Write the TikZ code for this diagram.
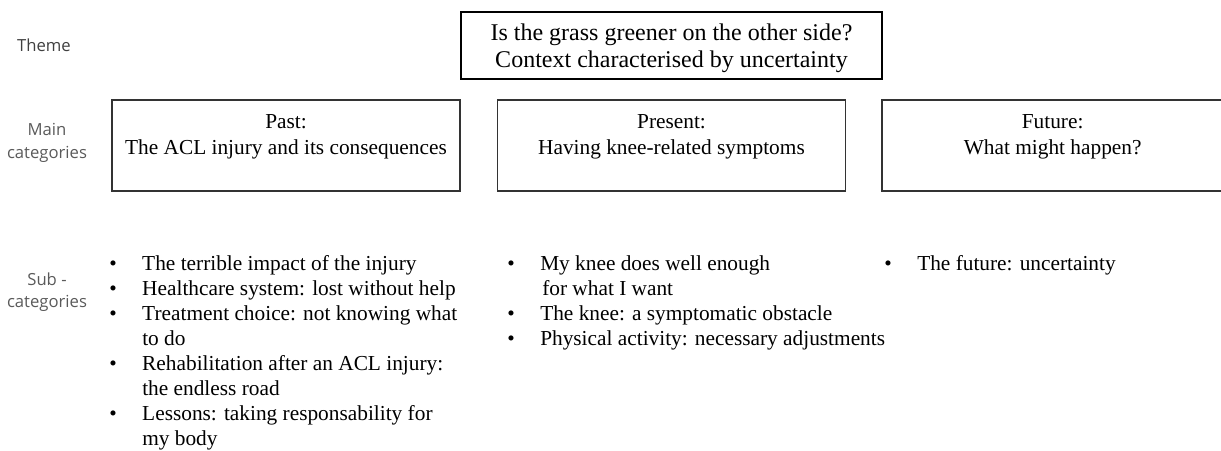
\documentclass[tikz,border=0pt]{standalone}
\usepackage{fontspec}
\setmainfont{Liberation Serif}
\newfontfamily\labelfont{Open Sans}
\usetikzlibrary{positioning}
\definecolor{labDark}{HTML}{404040}
\definecolor{labGray}{HTML}{5A5A5A}
\definecolor{boxGray}{HTML}{333333}

\newcommand{\bul}{\makebox[24.75pt][l]{\textbullet}}
\newcommand{\cont}{\hspace*{24.75pt}}

\begin{document}
\begin{tikzpicture}
[
x=0.75pt, y=-0.75pt,
rowlabel/.style={align=center,inner sep=0pt,font=\labelfont\fontsize{12.5}{17}\selectfont},
themebox/.style={draw=black,line width=1.5pt,minimum width=421*0.75pt,minimum height=67*0.75pt,inner sep=0pt},
themetext/.style={align=center,inner sep=0pt,font=\fontsize{18}{20.8}\selectfont},
catbox/.style={draw=boxGray,line width=1.1pt,minimum width=348*0.75pt,minimum height=91*0.75pt,inner sep=0pt},
cattext/.style={align=center,inner sep=0pt,font=\fontsize{16}{19.5}\selectfont},
sublist/.style={align=left,inner sep=0pt,anchor=north west,font=\fontsize{16}{18.75}\selectfont},
]
\clip (0,0) rectangle (1221,450);

% Row labels
\node[rowlabel,text=labDark] (lthm) at (44,45) {Theme};
\node[rowlabel,text=labGray] (lmain) at (47,143) {Main\\categories};
\node[rowlabel,text=labGray] (lsub) at (47,292) {Sub -\\categories};

% Theme
\node[themebox] (theme) at (671.5,45.5) {};
\node[themetext,yshift=-2pt] (themetxt) at (theme.center) {Is the grass greener on the other side?\\Context characterised by uncertainty};

% Main categories
\node[catbox] (past) at (286,145.5) {};
\node[catbox] (pres) at (671.5,145.5) {};
\node[catbox] (fut) at (1056,145.5) {};
\node[cattext,below=11pt of past.north] (pasttxt) {Past:\\The ACL injury and its consequences};
\node[cattext,below=11pt of pres.north] (prestxt) {Present:\\Having knee-related symptoms};
\node[cattext,below=11pt of fut.north,xshift=-2.5pt] (futtxt) {Future:\\What might happen?};

% Sub-categories
\node[sublist] (pastsub) at (109,255.5) {\bul The terrible impact of the injury\\
\bul Healthcare system: lost without help\\
\bul Treatment choice: not knowing what\\
\cont to do\\
\bul Rehabilitation after an ACL injury:\\
\cont the endless road\\
\bul Lessons: taking responsability for\\
\cont my body};
\node[sublist] (pressub) at (507,255.5) {\bul My knee does well enough\\
\cont\hspace*{1.5pt}for what I want\\
\bul The knee: a symptomatic obstacle\\
\bul Physical activity: necessary adjustments};
\node[sublist] (futsub) at (884,255.5) {\bul The future: uncertainty};

\end{tikzpicture}
\end{document}
